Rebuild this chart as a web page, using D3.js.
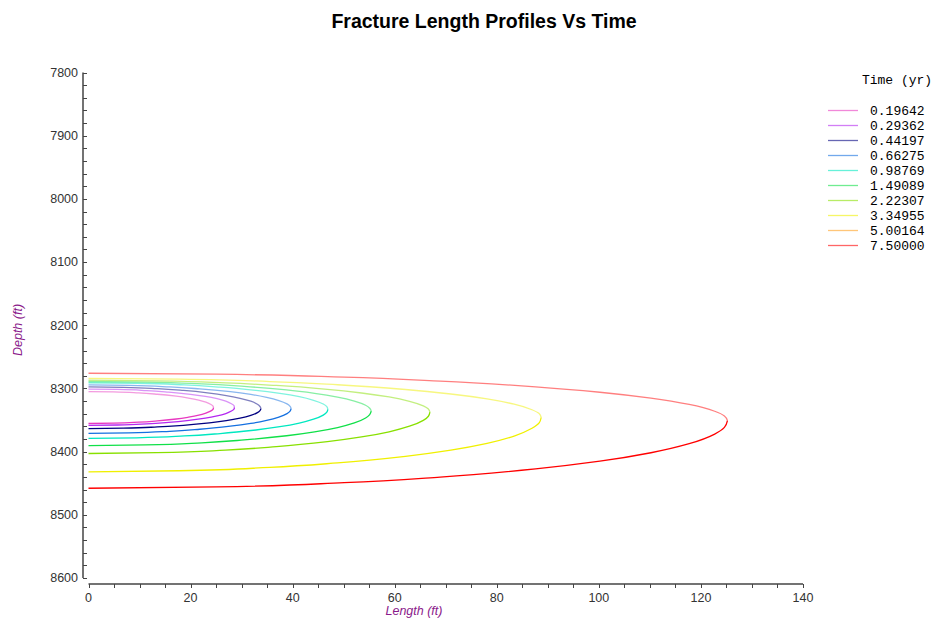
<!DOCTYPE html>
<html>
<head>
<meta charset="utf-8">
<script src="https://cdn.jsdelivr.net/npm/d3@7"></script>
<style>
  html, body { margin: 0; padding: 0; background: #fff; }
  svg { display: block; }
</style>
</head>
<body>
<svg id="chart" width="933" height="619"></svg>
<script>
// Fracture half-length profiles: [length (ft), depth (ft)], top tip -> crack tip -> bottom tip
const timeLabels = ["0.19642", "0.29362", "0.44197", "0.66275", "0.98769",
                    "1.49089", "2.22307", "3.34955", "5.00164", "7.50000"];

const profile_019642 = [[0,8305],[4.9,8305.5],[9.8,8307.1],[13.5,8309.2],[17.2,8312.3],[19.6,8315.2],[21.6,8318.4],[23.0,8321.8],[24.0,8325.4],[24.4,8328.0],[24.5,8330.5],[24.4,8333.0],[24.0,8335.5],[23.0,8339.0],[21.6,8342.4],[19.6,8345.5],[17.2,8348.4],[13.5,8351.4],[9.8,8353.4],[4.9,8355.0],[0,8355.5]];
const profile_029362 = [[0,8301],[5.7,8301.6],[11.4,8303.4],[15.7,8305.8],[20.0,8309.3],[22.9,8312.6],[25.2,8316.2],[26.9,8320.1],[28.0,8324.2],[28.5,8327.1],[28.6,8330],[28.5,8332.9],[28.0,8335.7],[26.9,8339.7],[25.2,8343.5],[22.9,8347.1],[20.0,8350.3],[15.7,8353.8],[11.4,8356.1],[5.7,8357.9],[0,8358.5]];
const profile_044197 = [[0,8297.5],[6.8,8298.2],[13.5,8300.4],[18.6,8303.2],[23.7,8307.4],[27.0,8311.3],[29.7,8315.6],[31.8,8320.2],[33.1,8325.1],[33.6,8328.6],[33.8,8332],[33.6,8335.1],[33.1,8338.3],[31.8,8342.7],[29.7,8347.0],[27.0,8350.9],[23.7,8354.5],[18.6,8358.3],[13.5,8360.9],[6.8,8362.9],[0,8363.5]];
const profile_066275 = [[0,8294.5],[7.9,8295.2],[15.9,8297.6],[21.8,8300.7],[27.8,8305.2],[31.8,8309.5],[34.9,8314.2],[37.3,8319.2],[38.9,8324.5],[39.5,8328.3],[39.7,8332],[39.5,8335.9],[38.9,8339.8],[37.3,8345.3],[34.9,8350.5],[31.8,8355.4],[27.8,8359.8],[21.8,8364.6],[15.9,8367.8],[7.9,8370.2],[0,8371]];
const profile_098769 = [[0,8291],[9.4,8291.8],[18.8,8294.5],[25.8,8297.9],[32.8,8303.0],[37.5,8307.8],[41.3,8313.0],[44.1,8318.7],[46.0,8324.6],[46.7,8328.8],[46.9,8333],[46.7,8337.6],[46.0,8342.2],[44.1,8348.7],[41.3,8354.9],[37.5,8360.6],[32.8,8365.8],[25.8,8371.4],[18.8,8375.2],[9.4,8378.1],[0,8379]];
const profile_149089 = [[0,8289],[11.1,8289.9],[22.2,8292.9],[30.5,8296.8],[38.8,8302.4],[44.3,8307.8],[48.8,8313.7],[52.1,8320.0],[54.3,8326.6],[55.1,8331.3],[55.4,8336],[55.1,8341.4],[54.3,8346.8],[52.1,8354.6],[48.8,8361.9],[44.3,8368.7],[38.8,8374.9],[30.5,8381.5],[22.2,8386.0],[11.1,8389.4],[0,8390.5]];
const profile_222307 = [[0,8287],[13.4,8288.0],[26.8,8291.2],[36.8,8295.3],[46.8,8301.4],[53.5,8307.2],[58.9,8313.5],[62.9,8320.3],[65.6,8327.5],[66.6,8332.5],[66.9,8337.5],[66.6,8344.0],[65.6,8350.5],[62.9,8359.8],[58.9,8368.6],[53.5,8376.8],[46.8,8384.3],[36.8,8392.2],[26.8,8397.6],[13.4,8401.7],[0,8403]];
const profile_334955 = [[0,8284],[17.7,8285.2],[35.5,8289.1],[48.8,8294.2],[62.1,8301.7],[71.0,8308.8],[78.1,8316.5],[83.4,8324.9],[86.9,8333.7],[88.3,8339.8],[88.7,8346],[88.3,8354.6],[86.9,8363.1],[83.4,8375.3],[78.1,8386.9],[71.0,8397.6],[62.1,8407.4],[48.8,8417.8],[35.5,8424.9],[17.7,8430.3],[0,8432]];
const profile_500164 = [];
const profile_750000 = [[0,8276],[25.0,8277.5],[50.1,8282.2],[68.9,8288.4],[87.6,8297.4],[100.2,8306.0],[110.2,8315.4],[117.7,8325.4],[122.7,8336.1],[124.6,8343.5],[125.2,8351],[124.6,8361.7],[122.7,8372.3],[117.7,8387.5],[110.2,8401.8],[100.2,8415.2],[87.6,8427.4],[68.9,8440.3],[50.1,8449.1],[25.0,8455.9],[0,8458]];

const xTicks = [0, 20, 40, 60, 80, 100, 120, 140];
const yTicks = [7800, 7900, 8000, 8100, 8200, 8300, 8400, 8500, 8600];

const profiles = [profile_019642, profile_029362, profile_044197, profile_066275, profile_098769,
                  profile_149089, profile_222307, profile_334955, profile_500164, profile_750000];
const colors = ["#e838c0", "#b428f0", "#000080", "#1470e0", "#00e8c0",
                "#10e048", "#88e000", "#f0f000", "#ffa020", "#ff0000"];

const svg = d3.select("#chart");

const x = d3.scaleLinear().domain([0, 140]).range([88.5, 803]);
const y = d3.scaleLinear().domain([7800, 8600]).range([72.5, 578]);

// Title
svg.append("text")
  .attr("x", 484).attr("y", 28)
  .attr("text-anchor", "middle")
  .style("font-family", "'Liberation Sans', Arial, sans-serif")
  .style("font-size", "19.5px").style("font-weight", "bold")
  .attr("fill", "#000")
  .text("Fracture Length Profiles Vs Time");

// Y axis (depth grows downward), ticks pointing into the plot
const yAxis = svg.append("g").attr("transform", "translate(83,0)");
yAxis.append("line").attr("x1", 0).attr("x2", 0).attr("y1", y(7800)).attr("y2", y(8600))
  .attr("stroke", "#444").attr("stroke-width", 1.5);
yAxis.selectAll("line.minor").data(d3.range(7800, 8601, 20)).join("line")
  .attr("class", "minor")
  .attr("x1", 0).attr("x2", 4)
  .attr("y1", d => Math.round(y(d)) + 0.5).attr("y2", d => Math.round(y(d)) + 0.5)
  .attr("stroke", "#444").attr("stroke-width", 1);
yAxis.selectAll("text").data(yTicks).join("text")
  .attr("x", -5).attr("y", d => y(d)).attr("dy", "0.35em")
  .attr("text-anchor", "end")
  .style("font-family", "'Liberation Sans', Arial, sans-serif")
  .style("font-size", "12.5px").attr("fill", "#333")
  .text(d => d);

// X axis, ticks pointing down
const xAxis = svg.append("g").attr("transform", "translate(0,584)");
xAxis.append("line").attr("x1", x(0)).attr("x2", x(140)).attr("y1", 0).attr("y2", 0)
  .attr("stroke", "#444").attr("stroke-width", 1.5);
xAxis.selectAll("line.minor").data(d3.range(0, 141, 5)).join("line")
  .attr("class", "minor")
  .attr("x1", d => Math.round(x(d)) + 0.5).attr("x2", d => Math.round(x(d)) + 0.5)
  .attr("y1", 0).attr("y2", 4)
  .attr("stroke", "#444").attr("stroke-width", 1);
xAxis.selectAll("text").data(xTicks).join("text")
  .attr("x", d => x(d)).attr("y", 18)
  .attr("text-anchor", "middle")
  .style("font-family", "'Liberation Sans', Arial, sans-serif")
  .style("font-size", "12.5px").attr("fill", "#333")
  .text(d => d);

// Axis titles
svg.append("text")
  .attr("x", 414).attr("y", 615).attr("text-anchor", "middle")
  .style("font-family", "'Liberation Sans', Arial, sans-serif")
  .style("font-size", "12.5px").style("font-style", "italic")
  .attr("fill", "#8b1a8b").text("Length (ft)");
svg.append("text")
  .attr("transform", "translate(22,330) rotate(-90)").attr("text-anchor", "middle")
  .style("font-family", "'Liberation Sans', Arial, sans-serif")
  .style("font-size", "12.5px").style("font-style", "italic")
  .attr("fill", "#8b1a8b").text("Depth (ft)");

// Profiles: upper wing drawn faded, lower wing in full colour
const line = d3.line().x(d => x(d[0])).y(d => y(d[1])).curve(d3.curveMonotoneY);
const plot = svg.append("g");
profiles.forEach((p, i) => {
  if (!p.length) return;
  const tip = d3.maxIndex(p, d => d[0]);
  plot.append("path").attr("d", line(p.slice(0, tip + 1)))
    .attr("fill", "none").attr("stroke", colors[i]).attr("stroke-opacity", 0.5)
    .attr("stroke-width", 1.3);
  plot.append("path").attr("d", line(p.slice(tip)))
    .attr("fill", "none").attr("stroke", colors[i])
    .attr("stroke-width", 1.3);
});

// Legend
const legend = svg.append("g");
legend.append("text")
  .attr("x", 897).attr("y", 84).attr("text-anchor", "middle")
  .style("font-family", "'Liberation Mono', 'Courier New', monospace")
  .style("font-size", "13px").attr("fill", "#000")
  .text("Time (yr)");
const items = legend.selectAll("g.item").data(timeLabels).join("g")
  .attr("class", "item")
  .attr("transform", (d, i) => `translate(0,${110 + i * 15})`);
items.append("line").attr("x1", 828).attr("x2", 858).attr("y1", 0.5).attr("y2", 0.5)
  .attr("stroke", (d, i) => colors[i]).attr("stroke-opacity", 0.6).attr("stroke-width", 1.3);
items.append("text")
  .attr("x", 870).attr("y", 0).attr("dy", "0.35em")
  .style("font-family", "'Liberation Mono', 'Courier New', monospace")
  .style("font-size", "13px").attr("fill", "#000")
  .text(d => d);
</script>
</body>
</html>
